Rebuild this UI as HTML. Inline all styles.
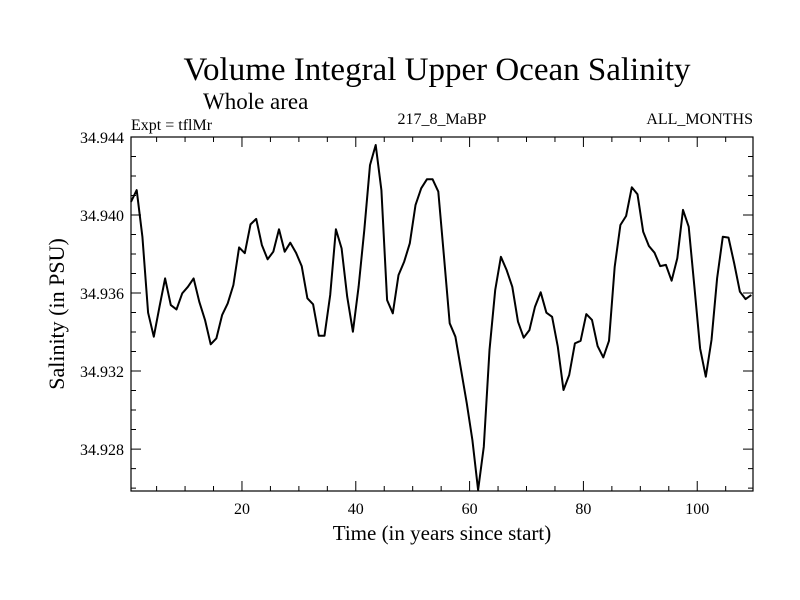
<!DOCTYPE html>
<html><head><meta charset="utf-8"><style>
body{margin:0;background:#fff}
svg{display:block;font-family:"Liberation Serif",serif}
</style></head><body>
<svg id="c" width="800" height="600">
<text x="437" y="80" font-size="33" text-anchor="middle">Volume Integral Upper Ocean Salinity</text>
<text x="203" y="109" font-size="23">Whole area</text>
<text x="131" y="130" font-size="16">Expt = tflMr</text>
<text x="442" y="124" font-size="16" text-anchor="middle">217_8_MaBP</text>
<text x="753" y="124" font-size="16" text-anchor="end">ALL_MONTHS</text>
<text x="442" y="540" font-size="21" text-anchor="middle">Time (in years since start)</text>
<text transform="translate(64,314) rotate(-90)" font-size="22" text-anchor="middle">Salinity (in PSU)</text>
<g id="ax"></g>
</svg>
<script>
const values=[34.94068,34.94128,34.93889,34.93499,34.93376,34.93530,34.93675,34.93538,34.93516,34.93598,
34.93632,34.93675,34.93555,34.93462,34.93337,34.93368,34.93487,34.93547,34.93641,34.93834,
34.93804,34.93952,34.93980,34.93846,34.93773,34.93812,34.93927,34.93812,34.93858,34.93807,
34.93738,34.93573,34.93542,34.93381,34.93381,34.93590,34.93927,34.93829,34.93581,34.93402,
34.93632,34.93923,34.94256,34.94359,34.94128,34.93564,34.93496,34.93692,34.93761,34.93855,
34.94051,34.94137,34.94183,34.94183,34.94120,34.93786,34.93445,34.93376,34.93205,34.93034,
34.92846,34.92590,34.92812,34.93308,34.93615,34.93786,34.93718,34.93632,34.93453,34.93371,
34.93410,34.93530,34.93604,34.93499,34.93478,34.93325,34.93103,34.93180,34.93342,34.93355,
34.93492,34.93462,34.93328,34.93270,34.93355,34.93735,34.93949,34.93995,34.94142,34.94106,
34.93914,34.93841,34.93807,34.93738,34.93744,34.93663,34.93778,34.94026,34.93940,34.93632,
34.93316,34.93171,34.93359,34.93675,34.93889,34.93884,34.93752,34.93607,34.93569,34.93590];
const xTicks=[20,40,60,80,100];
const yTicks=[34.928,34.932,34.936,34.940,34.944];
const L=131,R=753,T=137,B=491,X0=0.5,X1=109.8,Y0=34.92585,Y1=34.944;
function xs(v){return L+(v-X0)/(X1-X0)*(R-L);}
function ys(v){return B-(v-Y0)/(Y1-Y0)*(B-T);}
const g=document.getElementById('ax');const NS='http://www.w3.org/2000/svg';
function mk(t,a){const e=document.createElementNS(NS,t);for(const k in a)e.setAttribute(k,a[k]);g.appendChild(e);return e;}
let d='';
for(let k=0;k<values.length;k++){d+=(k?'L':'M')+xs(k+0.5).toFixed(1)+' '+ys(values[k]).toFixed(1);}
const ln=mk('path',{d:d,fill:'none',stroke:'#000','stroke-width':2,'stroke-linejoin':'round'});


const fr=mk('rect',{x:L,y:T,width:R-L,height:B-T,fill:'none',stroke:'#000','stroke-width':1.2});


let tk='';
for(let v=5;v<X1;v+=5){const x=xs(v),len=(v%20===0)?10:5;tk+=`M${x} ${B}v${-len}M${x} ${T}v${len}`;}
for(let i=0;i<=18;i++){const vv=Math.round((34.926+i*0.001)*1000)/1000;if(vv>Y1)break;const y=ys(vv);const len=(Math.round(vv*1000)%4===0)?10:5;tk+=`M${L} ${y}h${len}M${R} ${y}h${-len}`;}
const tp=mk('path',{d:tk,stroke:'#000','stroke-width':1});


xTicks.forEach(v=>{const t=mk('text',{x:xs(v),y:B+23,'font-size':16,'text-anchor':'middle'});t.textContent=v;

});
yTicks.forEach(v=>{const t=mk('text',{x:L-7,y:ys(v)+6,'font-size':16,'text-anchor':'end'});t.textContent=v.toFixed(3);

});
</script>
</body></html>
